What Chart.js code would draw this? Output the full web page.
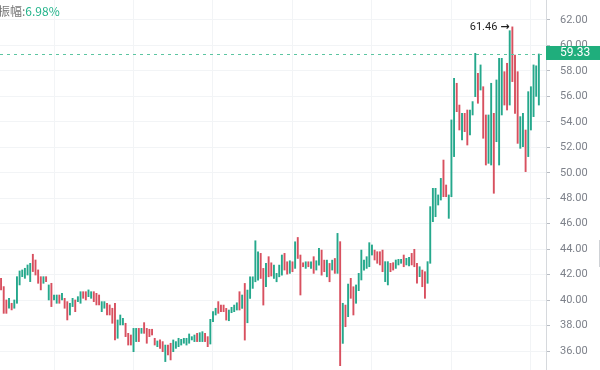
<!DOCTYPE html>
<html>
<head>
<meta charset="utf-8">
<script src="https://cdn.jsdelivr.net/npm/chart.js@4/dist/chart.umd.min.js"></script>
<style>
  body { margin: 0; background: #fff; overflow: hidden; }
  #wrap { position: relative; width: 600px; height: 370px; }
  #head { position: absolute; left: -2px; top: 3px; font: 12px/16px "Noto Sans CJK SC", "Noto Sans", sans-serif; color: #777; }
  #head span { color: #22b38a; }
  #edge { position: absolute; left: 599px; top: 240px; width: 1px; height: 27px; background: #cfd2d6; }
</style>
</head>
<body>
<div id="wrap">
  <canvas id="chart" width="600" height="370"></canvas>
  <div id="head">振幅:<span>6.98%</span></div>
  <div id="edge"></div>
</div>
<script>
// candle bodies (one entry per day)
const opens = [
  41.71, 41.06, 40.01, 39.36, 39.75, 39.36, 39.75, 41.19, 41.84, 41.71,
  41.97, 41.45, 43.60, 43.15, 42.37, 41.84, 41.32, 41.84, 40.01, 41.32,
  40.01, 39.75, 40.40, 40.01, 40.14, 39.88, 38.83, 39.49, 40.01, 39.88,
  39.75, 40.66, 40.66, 40.27, 40.14, 40.66, 40.53, 40.40, 39.09, 39.36,
  39.75, 39.62, 39.36, 39.75, 37.00, 38.05, 38.05, 38.18, 37.39, 37.26,
  35.95, 36.74, 37.78, 37.39, 38.23, 37.78, 37.71, 37.71, 37.00, 36.34,
  36.87, 36.74, 35.17, 36.47, 36.61, 35.95, 36.21, 36.34, 36.47, 36.61,
  36.47, 36.61, 36.87, 36.74, 37.39, 36.74, 36.74, 37.39, 37.13, 36.55,
  38.31, 38.83, 39.88, 39.61, 39.61, 39.35, 38.38, 39.01, 39.09, 39.22,
  40.66, 39.35, 41.31, 38.22, 40.13, 40.92, 41.44, 41.57, 43.67, 42.49,
  41.05, 43.41, 42.93, 41.70, 41.44, 41.83, 41.96, 43.67, 43.01, 42.10,
  43.01, 42.49, 44.92, 43.54, 42.93, 42.49, 43.01, 42.49, 43.41, 42.36,
  42.75, 43.93, 43.14, 41.83, 42.88, 42.36, 43.27, 42.10, 44.59, 36.60,
  39.61, 38.70, 41.71, 41.05, 39.75, 40.74, 41.58, 42.36, 42.49, 42.62,
  43.54, 43.93, 43.80, 43.80, 43.93, 41.45, 41.19, 42.89, 42.94, 42.49,
  42.76, 42.89, 43.54, 42.76, 42.68, 43.67, 43.99, 42.89, 41.84, 42.36,
  42.23, 41.32, 42.89, 46.16, 46.55, 47.47, 47.86, 51.00, 49.04, 46.42,
  48.12, 51.27, 57.03, 55.32, 52.58, 54.67, 54.93, 52.97, 54.54, 55.98,
  57.81, 56.50, 56.76, 54.54, 50.74, 50.61, 54.67, 52.44, 50.61, 54.54,
  57.94, 58.60, 55.32, 61.46, 59.25, 57.94, 51.92, 52.05, 53.36, 51.27,
  53.36, 54.41, 56.00, 55.32
];
const closes = [
  40.80, 38.96, 38.96, 40.14, 39.23, 40.01, 41.84, 42.29, 42.37, 42.50,
  42.76, 42.89, 42.24, 41.97, 41.32, 40.80, 41.84, 41.45, 41.19, 39.49,
  40.40, 40.40, 39.75, 40.53, 39.36, 38.44, 39.75, 40.14, 39.09, 40.27,
  40.66, 40.14, 40.01, 40.80, 40.66, 39.88, 39.62, 39.62, 39.88, 39.88,
  38.83, 38.83, 38.18, 36.87, 38.44, 38.83, 38.57, 37.13, 36.47, 36.47,
  37.78, 37.78, 36.74, 37.78, 37.39, 36.61, 37.13, 37.26, 36.47, 36.79,
  36.21, 35.95, 36.47, 35.69, 35.30, 36.87, 36.74, 37.00, 36.92, 37.00,
  37.00, 37.34, 37.13, 37.26, 36.74, 37.44, 37.52, 36.74, 36.34, 38.49,
  39.09, 39.36, 38.96, 39.09, 39.09, 38.43, 39.22, 39.43, 39.61, 39.79,
  39.22, 40.40, 36.86, 40.79, 41.83, 41.83, 44.66, 43.80, 41.70, 39.61,
  42.88, 41.83, 41.89, 42.75, 42.10, 42.75, 43.54, 42.36, 42.04, 43.09,
  42.23, 44.58, 43.27, 40.40, 42.62, 43.01, 42.62, 43.01, 42.10, 43.09,
  44.06, 41.96, 42.23, 43.14, 41.44, 43.14, 42.10, 45.24, 34.85, 39.75,
  37.91, 41.26, 40.14, 38.83, 41.19, 42.10, 43.93, 43.15, 43.41, 44.51,
  44.33, 43.15, 42.89, 42.76, 42.23, 43.02, 43.02, 42.23, 42.36, 43.15,
  43.20, 43.20, 42.62, 43.28, 43.36, 42.76, 42.62, 41.32, 42.62, 41.05,
  40.14, 43.02, 47.34, 48.78, 48.78, 48.26, 49.56, 48.12, 48.12, 48.26,
  54.15, 57.42, 54.80, 53.36, 54.67, 53.23, 52.18, 54.93, 55.59, 59.38,
  55.46, 58.47, 52.71, 50.61, 54.54, 57.03, 48.39, 57.29, 58.99, 58.99,
  55.32, 54.93, 61.16, 57.16, 54.67, 52.31, 54.41, 54.67, 50.09, 56.37,
  56.76, 58.47, 58.40, 59.33
];
const yTicks = [36, 38, 40, 42, 44, 46, 48, 50, 52, 54, 56, 58, 60, 62];
const gridDays = [20, 50, 80, 110, 140, 170, 200];
const amplitude = '6.98%';

const upColor = '#25a88c';
const downColor = '#d8505f';

document.querySelector('#head span').textContent = amplitude;

const candles = opens.map((o, i) => ({ x: i, y: [o, closes[i]] }));

const priceMarks = {
  id: 'priceMarks',
  afterDraw(chart) {
    const { ctx, chartArea } = chart;
    const xs = chart.scales.x;
    const ys = chart.scales.y;
    const last = closes[closes.length - 1];
    const py = ys.getPixelForValue(last);

    ctx.save();
    // dashed last price line
    ctx.strokeStyle = '#5cc5a1';
    ctx.lineWidth = 1;
    ctx.setLineDash([3, 4]);
    ctx.beginPath();
    ctx.moveTo(chartArea.left, Math.round(py) + 0.5);
    ctx.lineTo(chartArea.right, Math.round(py) + 0.5);
    ctx.stroke();
    ctx.setLineDash([]);

    // last price tag
    ctx.fillStyle = '#1fae7c';
    ctx.fillRect(chartArea.right, py - 8, 600 - chartArea.right, 14);
    ctx.fillStyle = '#fff';
    ctx.font = '12px Roboto, sans-serif';
    ctx.textBaseline = 'middle';
    ctx.textAlign = 'left';
    ctx.fillText(last.toFixed(2), chartArea.right + 14, py - 1);

    // highest mark
    const tops = opens.map((o, i) => Math.max(o, closes[i]));
    const hi = Math.max(...tops);
    const hiIdx = tops.indexOf(hi);
    const hx = xs.getPixelForValue(hiIdx) - 3;
    const hy = ys.getPixelForValue(hi);
    ctx.fillStyle = '#1e1e1e';
    ctx.font = '11px Roboto, sans-serif';
    ctx.textAlign = 'right';
    ctx.fillText(hi.toFixed(2), hx - 12, hy);
    ctx.font = 'bold 11px "DejaVu Sans", sans-serif';
    ctx.fillText('→', hx, hy);
    ctx.restore();
  }
};

new Chart(document.getElementById('chart'), {
  type: 'bar',
  data: {
    datasets: [{
      data: candles,
      backgroundColor: candles.map(c => c.y[1] >= c.y[0] ? upColor : downColor),
      barThickness: 1.25,
      borderWidth: 0
    }]
  },
  options: {
    responsive: false,
    animation: false,
    layout: { padding: 0 },
    plugins: { legend: { display: false }, tooltip: { enabled: false } },
    scales: {
      x: {
        type: 'linear',
        offset: false,
        min: -0.4,
        max: 205.7,
        afterBuildTicks: s => { s.ticks = gridDays.map(v => ({ value: v })); },
        afterFit: s => { s.height = 0; s.paddingLeft = 0; s.paddingRight = 0; },
        ticks: { display: false },
        grid: { color: '#f2f4f6', drawTicks: false, offset: false },
        border: { display: false }
      },
      y: {
        position: 'right',
        min: 34.51,
        max: 63.57,
        afterBuildTicks: s => { s.ticks = yTicks.map(v => ({ value: v })); },
        afterFit: s => { s.width = 54; s.paddingTop = 0; s.paddingBottom = 0; },
        ticks: {
          callback: v => v.toFixed(2),
          color: '#7d818a',
          font: { family: 'Roboto', size: 11 },
          padding: 10
        },
        grid: { color: '#f2f4f6', tickColor: '#b9bdc4', tickLength: 4 },
        border: { color: '#d6d9dd' }
      }
    }
  },
  plugins: [priceMarks]
});
</script>
</body>
</html>
